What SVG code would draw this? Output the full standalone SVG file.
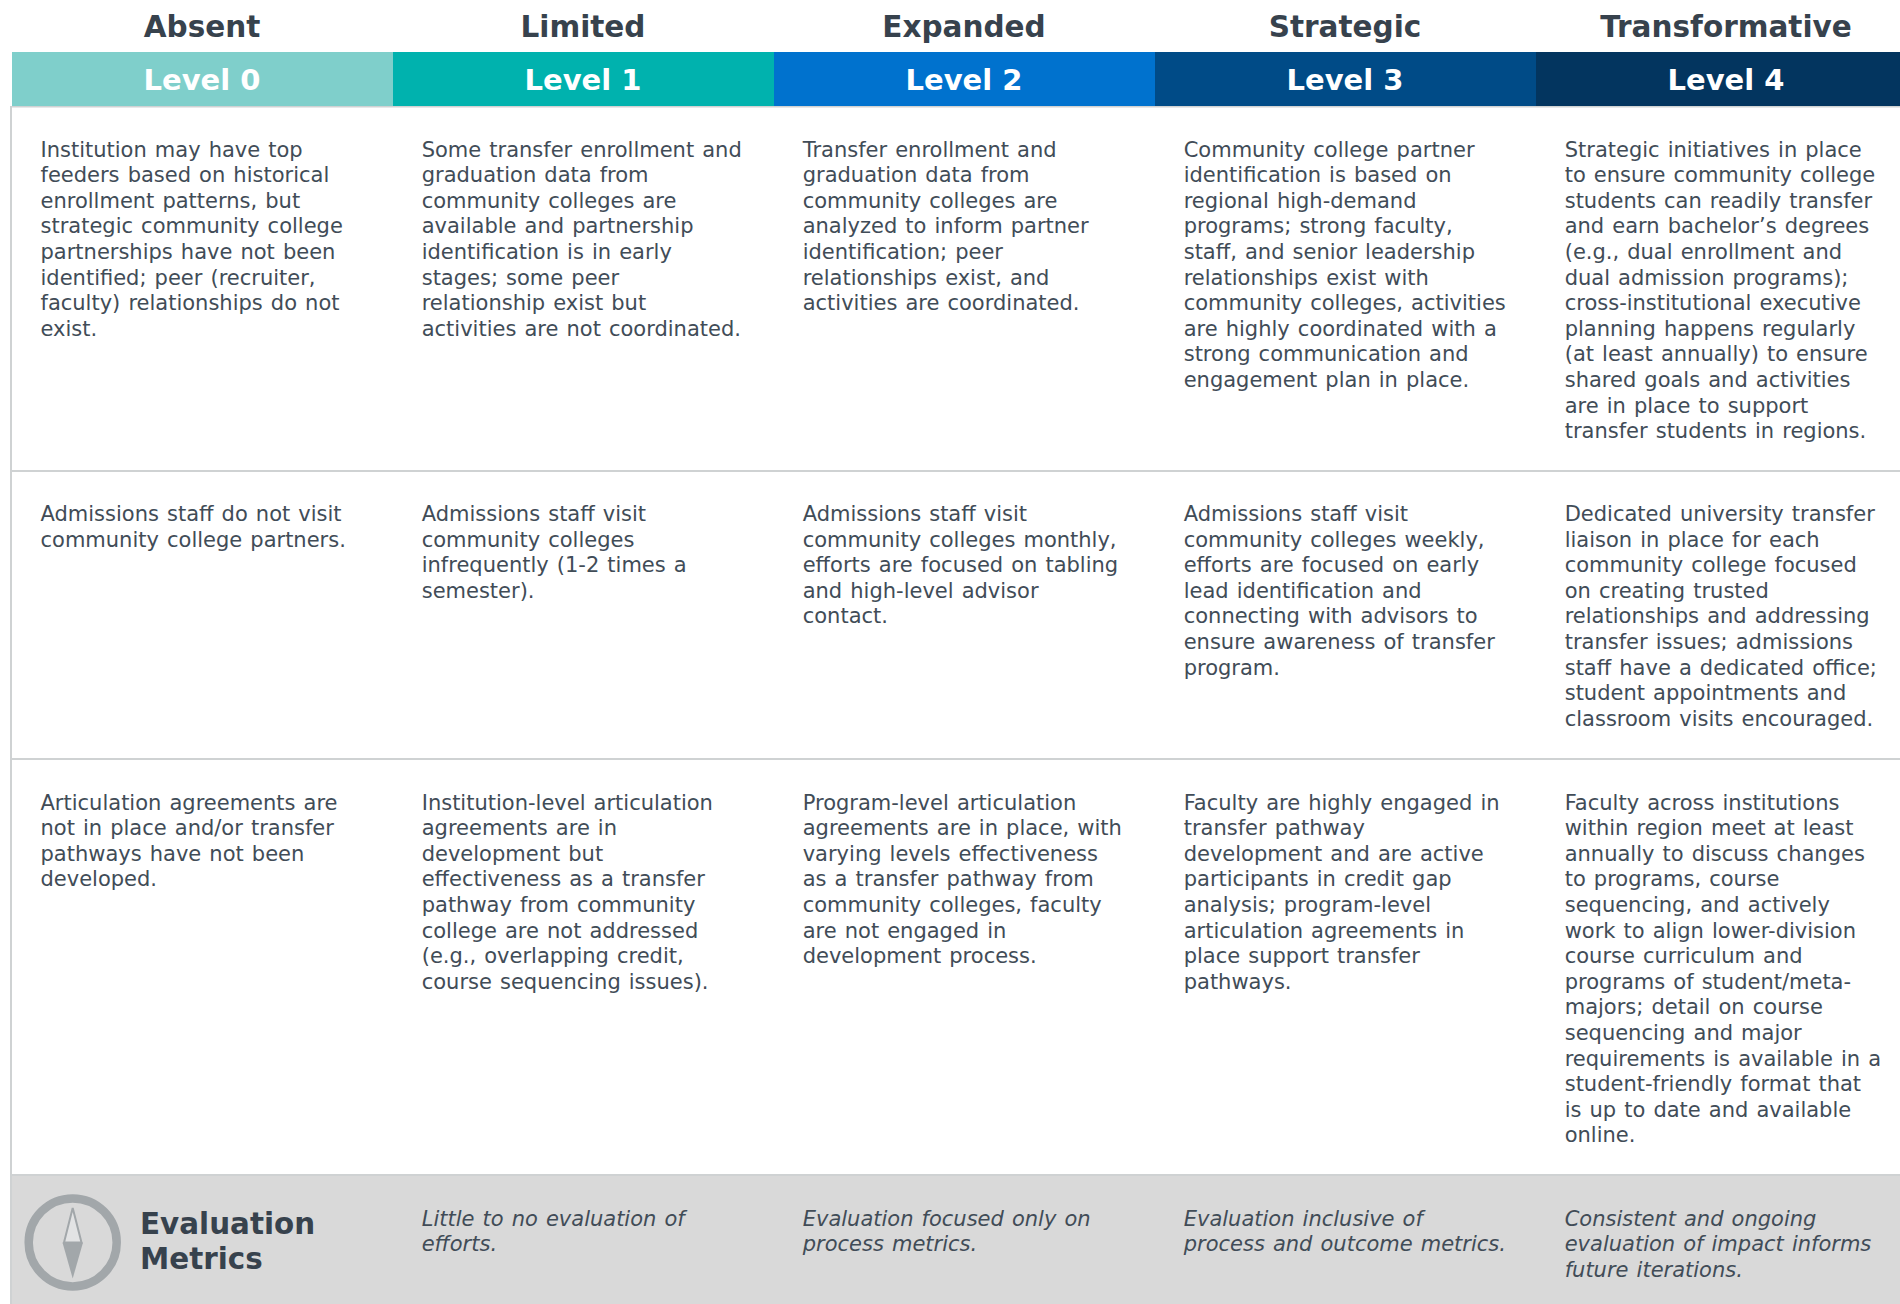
<svg xmlns="http://www.w3.org/2000/svg" width="1900" height="1304" viewBox="0 0 1900 1304">
<style>
text{font-family:"DejaVu Sans",Verdana,sans-serif;fill:#414c57}
.h{font-size:29.500px;font-weight:700;text-anchor:middle;fill:#37424d}
.l{font-size:29px;font-weight:700;text-anchor:middle;fill:#fff}
.b{font-size:21px;word-spacing:1.400px}
.e{font-size:21px;font-style:italic;word-spacing:1.400px}
.t{font-size:29.400px;font-weight:700;fill:#37424d}
.r{stroke:#cfd2d3;stroke-width:2;fill:none}
</style>
<rect width="1900" height="1304" fill="#fff"/>
<rect x="12" y="1175" width="1888" height="129" fill="#d9d9d9"/>
<path class="r" d="M11 106V1304M12 106.500H1900M12 471H1900M12 759H1900M12 1175H1900"/>
<g id="col0">
<rect x="12" y="52" width="381" height="54" fill="#7fcfcb"/>
<text class="h" x="202" y="37">Absent</text><text class="l" x="202" y="90">Level 0</text>
<text class="b" y="156.500"><tspan x="40.500">Institution may have top</tspan><tspan x="40.500" dy="25.600">feeders based on historical</tspan><tspan x="40.500" dy="25.600">enrollment patterns, but</tspan><tspan x="40.500" dy="25.600">strategic community college</tspan><tspan x="40.500" dy="25.600">partnerships have not been</tspan><tspan x="40.500" dy="25.600">identified; peer (recruiter,</tspan><tspan x="40.500" dy="25.600">faculty) relationships do not</tspan><tspan x="40.500" dy="25.600">exist.</tspan></text>
<text class="b" y="521"><tspan x="40.500">Admissions staff do not visit</tspan><tspan x="40.500" dy="25.600">community college partners.</tspan></text>
<text class="b" y="809.500"><tspan x="40.500">Articulation agreements are</tspan><tspan x="40.500" dy="25.600">not in place and/or transfer</tspan><tspan x="40.500" dy="25.600">pathways have not been</tspan><tspan x="40.500" dy="25.600">developed.</tspan></text>
</g>
<g id="col1">
<rect x="393" y="52" width="381" height="54" fill="#00b2ae"/>
<text class="h" x="583" y="37">Limited</text><text class="l" x="583" y="90">Level 1</text>
<text class="b" y="156.500"><tspan x="421.700">Some transfer enrollment and</tspan><tspan x="421.700" dy="25.600">graduation data from</tspan><tspan x="421.700" dy="25.600">community colleges are</tspan><tspan x="421.700" dy="25.600">available and partnership</tspan><tspan x="421.700" dy="25.600">identification is in early</tspan><tspan x="421.700" dy="25.600">stages; some peer</tspan><tspan x="421.700" dy="25.600">relationship exist but</tspan><tspan x="421.700" dy="25.600">activities are not coordinated.</tspan></text>
<text class="b" y="521"><tspan x="421.700">Admissions staff visit</tspan><tspan x="421.700" dy="25.600">community colleges</tspan><tspan x="421.700" dy="25.600">infrequently (1-2 times a</tspan><tspan x="421.700" dy="25.600">semester).</tspan></text>
<text class="b" y="809.500"><tspan x="421.700">Institution-level articulation</tspan><tspan x="421.700" dy="25.600">agreements are in</tspan><tspan x="421.700" dy="25.600">development but</tspan><tspan x="421.700" dy="25.600">effectiveness as a transfer</tspan><tspan x="421.700" dy="25.600">pathway from community</tspan><tspan x="421.700" dy="25.600">college are not addressed</tspan><tspan x="421.700" dy="25.600">(e.g., overlapping credit,</tspan><tspan x="421.700" dy="25.600">course sequencing issues).</tspan></text>
<text class="e" y="1225.500"><tspan x="421.700">Little to no evaluation of</tspan><tspan x="421.700" dy="25.600">efforts.</tspan></text>
</g>
<g id="col2">
<rect x="774" y="52" width="381" height="54" fill="#0072ce"/>
<text class="h" x="964" y="37">Expanded</text><text class="l" x="964" y="90">Level 2</text>
<text class="b" y="156.500"><tspan x="802.700">Transfer enrollment and</tspan><tspan x="802.700" dy="25.600">graduation data from</tspan><tspan x="802.700" dy="25.600">community colleges are</tspan><tspan x="802.700" dy="25.600">analyzed to inform partner</tspan><tspan x="802.700" dy="25.600">identification; peer</tspan><tspan x="802.700" dy="25.600">relationships exist, and</tspan><tspan x="802.700" dy="25.600">activities are coordinated.</tspan></text>
<text class="b" y="521"><tspan x="802.700">Admissions staff visit</tspan><tspan x="802.700" dy="25.600">community colleges monthly,</tspan><tspan x="802.700" dy="25.600">efforts are focused on tabling</tspan><tspan x="802.700" dy="25.600">and high-level advisor</tspan><tspan x="802.700" dy="25.600">contact.</tspan></text>
<text class="b" y="809.500"><tspan x="802.700">Program-level articulation</tspan><tspan x="802.700" dy="25.600">agreements are in place, with</tspan><tspan x="802.700" dy="25.600">varying levels effectiveness</tspan><tspan x="802.700" dy="25.600">as a transfer pathway from</tspan><tspan x="802.700" dy="25.600">community colleges, faculty</tspan><tspan x="802.700" dy="25.600">are not engaged in</tspan><tspan x="802.700" dy="25.600">development process.</tspan></text>
<text class="e" y="1225.500"><tspan x="802.700">Evaluation focused only on</tspan><tspan x="802.700" dy="25.600">process metrics.</tspan></text>
</g>
<g id="col3">
<rect x="1155" y="52" width="381" height="54" fill="#004b87"/>
<text class="h" x="1345" y="37">Strategic</text><text class="l" x="1345" y="90">Level 3</text>
<text class="b" y="156.500"><tspan x="1183.700">Community college partner</tspan><tspan x="1183.700" dy="25.600">identification is based on</tspan><tspan x="1183.700" dy="25.600">regional high-demand</tspan><tspan x="1183.700" dy="25.600">programs; strong faculty,</tspan><tspan x="1183.700" dy="25.600">staff, and senior leadership</tspan><tspan x="1183.700" dy="25.600">relationships exist with</tspan><tspan x="1183.700" dy="25.600">community colleges, activities</tspan><tspan x="1183.700" dy="25.600">are highly coordinated with a</tspan><tspan x="1183.700" dy="25.600">strong communication and</tspan><tspan x="1183.700" dy="25.600">engagement plan in place.</tspan></text>
<text class="b" y="521"><tspan x="1183.700">Admissions staff visit</tspan><tspan x="1183.700" dy="25.600">community colleges weekly,</tspan><tspan x="1183.700" dy="25.600">efforts are focused on early</tspan><tspan x="1183.700" dy="25.600">lead identification and</tspan><tspan x="1183.700" dy="25.600">connecting with advisors to</tspan><tspan x="1183.700" dy="25.600">ensure awareness of transfer</tspan><tspan x="1183.700" dy="25.600">program.</tspan></text>
<text class="b" y="809.500"><tspan x="1183.700">Faculty are highly engaged in</tspan><tspan x="1183.700" dy="25.600">transfer pathway</tspan><tspan x="1183.700" dy="25.600">development and are active</tspan><tspan x="1183.700" dy="25.600">participants in credit gap</tspan><tspan x="1183.700" dy="25.600">analysis; program-level</tspan><tspan x="1183.700" dy="25.600">articulation agreements in</tspan><tspan x="1183.700" dy="25.600">place support transfer</tspan><tspan x="1183.700" dy="25.600">pathways.</tspan></text>
<text class="e" y="1225.500"><tspan x="1183.700">Evaluation inclusive of</tspan><tspan x="1183.700" dy="25.600">process and outcome metrics.</tspan></text>
</g>
<g id="col4">
<rect x="1536" y="52" width="364" height="54" fill="#03355f"/>
<text class="h" x="1726" y="37">Transformative</text><text class="l" x="1726" y="90">Level 4</text>
<text class="b" y="156.500"><tspan x="1564.700">Strategic initiatives in place</tspan><tspan x="1564.700" dy="25.600">to ensure community college</tspan><tspan x="1564.700" dy="25.600">students can readily transfer</tspan><tspan x="1564.700" dy="25.600">and earn bachelor’s degrees</tspan><tspan x="1564.700" dy="25.600">(e.g., dual enrollment and</tspan><tspan x="1564.700" dy="25.600">dual admission programs);</tspan><tspan x="1564.700" dy="25.600">cross-institutional executive</tspan><tspan x="1564.700" dy="25.600">planning happens regularly</tspan><tspan x="1564.700" dy="25.600">(at least annually) to ensure</tspan><tspan x="1564.700" dy="25.600">shared goals and activities</tspan><tspan x="1564.700" dy="25.600">are in place to support</tspan><tspan x="1564.700" dy="25.600">transfer students in regions.</tspan></text>
<text class="b" y="521"><tspan x="1564.700">Dedicated university transfer</tspan><tspan x="1564.700" dy="25.600">liaison in place for each</tspan><tspan x="1564.700" dy="25.600">community college focused</tspan><tspan x="1564.700" dy="25.600">on creating trusted</tspan><tspan x="1564.700" dy="25.600">relationships and addressing</tspan><tspan x="1564.700" dy="25.600">transfer issues; admissions</tspan><tspan x="1564.700" dy="25.600">staff have a dedicated office;</tspan><tspan x="1564.700" dy="25.600">student appointments and</tspan><tspan x="1564.700" dy="25.600">classroom visits encouraged.</tspan></text>
<text class="b" y="809.500"><tspan x="1564.700">Faculty across institutions</tspan><tspan x="1564.700" dy="25.600">within region meet at least</tspan><tspan x="1564.700" dy="25.600">annually to discuss changes</tspan><tspan x="1564.700" dy="25.600">to programs, course</tspan><tspan x="1564.700" dy="25.600">sequencing, and actively</tspan><tspan x="1564.700" dy="25.600">work to align lower-division</tspan><tspan x="1564.700" dy="25.600">course curriculum and</tspan><tspan x="1564.700" dy="25.600">programs of student/meta-</tspan><tspan x="1564.700" dy="25.600">majors; detail on course</tspan><tspan x="1564.700" dy="25.600">sequencing and major</tspan><tspan x="1564.700" dy="25.600">requirements is available in a</tspan><tspan x="1564.700" dy="25.600">student-friendly format that</tspan><tspan x="1564.700" dy="25.600">is up to date and available</tspan><tspan x="1564.700" dy="25.600">online.</tspan></text>
<text class="e" y="1225.500"><tspan x="1564.700">Consistent and ongoing</tspan><tspan x="1564.700" dy="25.600">evaluation of impact informs</tspan><tspan x="1564.700" dy="25.600">future iterations.</tspan></text>
</g>
<g id="evaluation-label">
<circle cx="72.700" cy="1242.400" r="44" fill="none" stroke="#a2a7aa" stroke-width="8.500"/>
<path d="M72.700 1208L81.500 1242.500H64Z" fill="#e2e3e4" stroke="#a2a7aa" stroke-width="2"/>
<path d="M62.500 1242.500H83L72.700 1278.500Z" fill="#a2a7aa"/>
<text class="t" x="140" y="1234">Evaluation</text><text class="t" x="140" y="1269">Metrics</text>
</g>
</svg>
